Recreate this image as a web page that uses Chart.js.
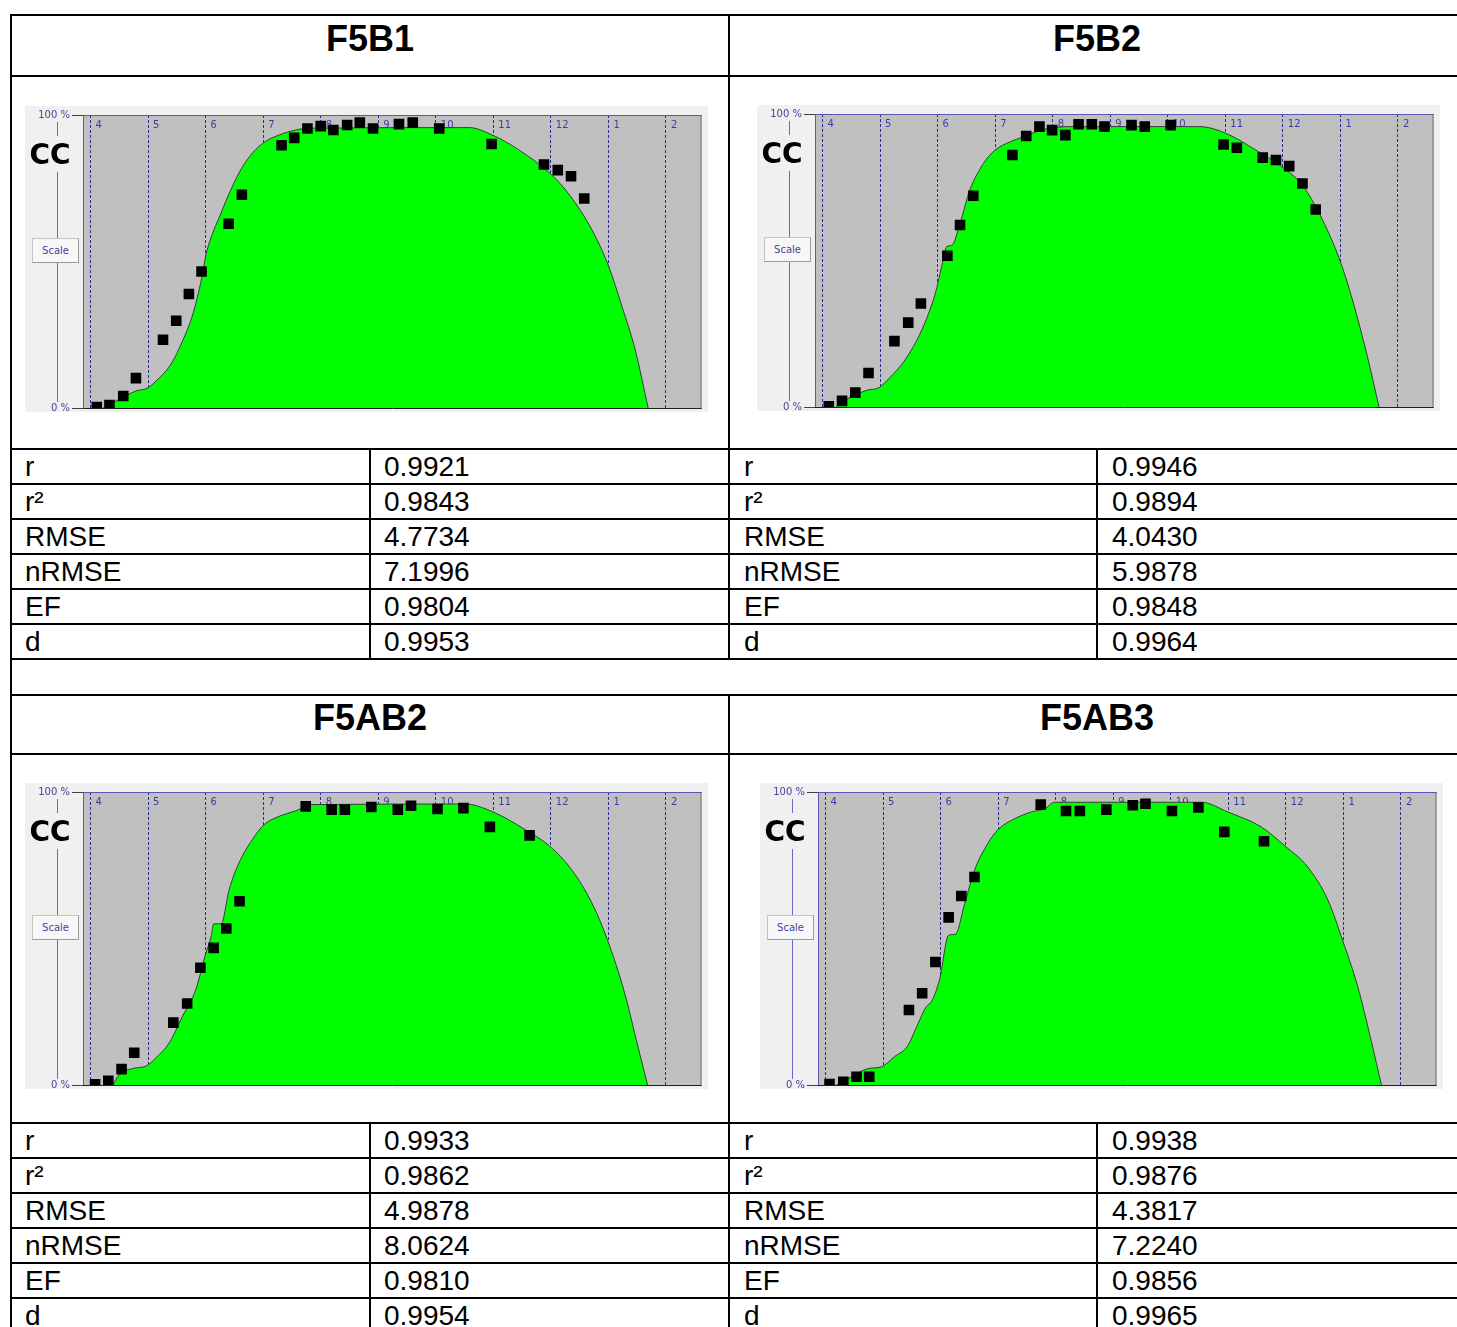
<!DOCTYPE html>
<html>
<head>
<meta charset="utf-8">
<script src="https://cdn.jsdelivr.net/npm/chart.js@4.4.0/dist/chart.umd.min.js"></script>
<style>
  html, body { margin: 0; padding: 0; background: #fff; overflow: hidden; }
  body { width: 1457px; height: 1327px; position: relative; font-family: "Liberation Sans", Arial, sans-serif; }
  .hline { position: absolute; height: 2px; background: #000; }
  .vline { position: absolute; width: 2px; background: #000; }
  .head { position: absolute; width: 300px; margin-left: -150px; text-align: center; font-weight: bold; font-size: 36px; line-height: 36px; }
  .cell { position: absolute; font-size: 28px; line-height: 28px; white-space: nowrap; }
  .plot { position: absolute; width: 683px; height: 306px; background: #f0f0f0; }
  .plot canvas { position: absolute; left: 0; top: 0; }
  .yrule { position: absolute; left: 32px; width: 1px; background: #6a6ac4; }
  .cc { position: absolute; left: -1px; top: 34px; width: 52px; text-align: center; font: bold 28px "DejaVu Sans", sans-serif; line-height: 30px; color: #000; }
  .scale { position: absolute; left: 7px; top: 132px; width: 45px; height: 23px; background: #f7f7f7;
           border: 1px solid #c4c4c4; border-right-color: #9a9a9a; border-bottom-color: #9a9a9a;
           font: 10px "DejaVu Sans", sans-serif; color: #4444a0; text-align: center; line-height: 23px; }
</style>
</head>
<body>
<script>
// Meses del eje (posición en meses, etiqueta)
const monthTicks = [4, 5, 6, 7, 8, 9, 10, 11, 12, 13, 14]
const monthLabels = ['4', '5', '6', '7', '8', '9', '10', '11', '12', '1', '2']
const statNames = ['r', 'r²', 'RMSE', 'nRMSE', 'EF', 'd']

// F5B1
const f5b1SimX = [4.22, 4.50, 4.79, 4.98, 5.14, 5.40, 5.60, 5.78, 5.93, 6.01, 6.12, 6.24, 6.41, 6.59, 6.76, 6.99, 7.28, 7.57, 7.80, 10.58, 10.98, 11.45, 11.99, 12.26, 12.55, 12.78, 13.00, 13.24, 13.47, 13.69]
const f5b1SimCC = [0, 3.0, 5.8, 6.7, 9.2, 15.0, 22.9, 32.1, 44.1, 52.6, 59.5, 65.2, 73.2, 80.6, 85.7, 90.3, 93.2, 94.9, 95.5, 95.7, 93.2, 88.0, 80.0, 74.3, 66.3, 58.3, 48.6, 34.4, 19.5, 0]
const f5b1ObsX = [4.11, 4.33, 4.57, 4.79, 5.26, 5.49, 5.71, 5.93, 6.40, 6.63, 7.32, 7.54, 7.77, 8.00, 8.22, 8.46, 8.68, 8.91, 9.36, 9.60, 10.06, 10.97, 11.88, 12.12, 12.35, 12.58]
const f5b1ObsCC = [0.3, 1.0, 4.1, 10.2, 23.3, 29.8, 38.9, 46.6, 62.9, 72.8, 89.7, 92.2, 95.4, 96.2, 94.9, 96.6, 97.4, 95.4, 96.9, 97.4, 95.4, 90.1, 83.1, 81.2, 79.1, 71.5]
const f5b1Stats = ['0.9921', '0.9843', '4.7734', '7.1996', '0.9804', '0.9953']

// F5B2
const f5b2SimX = [4.23, 4.49, 4.77, 4.98, 5.18, 5.41, 5.64, 5.81, 5.96, 6.07, 6.16, 6.25, 6.39, 6.56, 6.80, 7.00, 7.26, 7.49, 7.72, 7.95, 8.40, 10.55, 11.01, 11.53, 11.98, 12.34, 12.69, 12.99, 13.21, 13.47, 13.67]
const f5b2SimCC = [0, 3.4, 5.7, 6.6, 10.2, 15.4, 22.8, 30.2, 38.7, 47.8, 54.8, 55.2, 62.7, 74.0, 83.2, 87.7, 90.5, 92.2, 94.0, 95.2, 95.7, 95.7, 93.4, 87.7, 82.0, 75.7, 63.8, 50.1, 36.5, 17.1, 0]
const f5b2ObsX = [4.11, 4.34, 4.57, 4.80, 5.25, 5.49, 5.71, 6.17, 6.39, 6.62, 7.30, 7.54, 7.77, 7.99, 8.22, 8.45, 8.68, 8.90, 9.37, 9.60, 10.05, 10.97, 11.20, 11.65, 11.88, 12.11, 12.34, 12.57]
const f5b2ObsCC = [0.2, 2.1, 4.9, 11.6, 22.5, 28.8, 35.3, 51.6, 62.1, 72.1, 86.0, 92.5, 95.7, 94.5, 92.8, 96.5, 96.5, 95.7, 96.2, 95.7, 96.2, 89.6, 88.5, 85.1, 84.3, 82.2, 76.3, 67.4]
const f5b2Stats = ['0.9946', '0.9894', '4.0430', '5.9878', '0.9848', '0.9964']

// F5AB2
const f5ab2SimX = [4.39, 4.50, 4.73, 4.97, 5.14, 5.37, 5.60, 5.83, 5.99, 6.10, 6.14, 6.27, 6.41, 6.58, 6.81, 7.02, 7.28, 7.57, 7.85, 10.51, 10.97, 11.55, 11.98, 12.36, 12.71, 12.98, 13.28, 13.51, 13.68]
const f5ab2SimCC = [0, 3.6, 5.6, 6.5, 9.3, 14.4, 23.5, 32.6, 44.0, 51.0, 55.0, 55.0, 66.7, 75.8, 83.7, 88.9, 91.7, 93.6, 95.7, 95.9, 93.4, 87.2, 81.5, 73.5, 62.2, 49.7, 31.5, 13.3, 0]
const f5ab2ObsX = [4.08, 4.31, 4.54, 4.76, 5.44, 5.68, 5.91, 6.14, 6.36, 6.59, 7.74, 8.19, 8.42, 8.88, 9.34, 9.57, 10.03, 10.48, 10.94, 11.63]
const f5ab2ObsCC = [0.2, 1.4, 5.4, 11.0, 21.3, 27.8, 40.0, 46.8, 53.4, 62.7, 95.1, 94.0, 94.0, 94.9, 94.0, 95.3, 94.2, 94.5, 88.1, 85.2]
const f5ab2Stats = ['0.9933', '0.9862', '4.9878', '8.0624', '0.9810', '0.9954']

// F5AB3
const f5ab3SimX = [4.19, 4.45, 4.74, 4.97, 5.20, 5.42, 5.61, 5.75, 5.84, 5.98, 6.14, 6.26, 6.42, 6.59, 6.82, 7.00, 7.29, 7.58, 7.81, 7.98, 10.53, 10.99, 11.57, 11.97, 12.38, 12.73, 12.99, 13.25, 13.48, 13.66]
const f5ab3SimCC = [0, 2.8, 5.6, 6.2, 9.7, 13.1, 21.0, 26.7, 28.4, 35.8, 51.1, 51.5, 62.0, 73.3, 82.4, 87.2, 90.9, 93.2, 94.3, 96.5, 96.5, 93.2, 88.1, 81.8, 74.4, 63.1, 49.1, 33.5, 15.3, 0]
const f5ab3ObsX = [4.07, 4.31, 4.54, 4.76, 5.45, 5.68, 5.91, 6.14, 6.36, 6.59, 7.74, 8.18, 8.42, 8.88, 9.34, 9.56, 10.02, 10.48, 10.93, 11.62]
const f5ab3ObsCC = [0.3, 1.1, 2.8, 2.8, 25.6, 31.3, 42.0, 57.2, 64.5, 71.0, 95.7, 93.5, 93.5, 94.0, 95.5, 96.0, 93.5, 94.7, 86.4, 83.2]
const f5ab3Stats = ['0.9938', '0.9876', '4.3817', '7.2240', '0.9856', '0.9965']

// Cuadrícula de la tabla
const hLines = [15, 76, 449, 484, 519, 554, 589, 624, 659, 695, 754, 1123, 1158, 1193, 1228, 1263, 1298]
const vLines = [
  [11, 14, 1327], [729, 14, 660], [729, 694, 1327],
  [370, 449, 660], [1097, 449, 660], [370, 1123, 1327], [1097, 1123, 1327]
]

const panels = [
  { title: 'F5B1', cx: 370, titleTop: 21, left: 25, top: 106, rowTop: 449, labelX: 25, valueX: 384, simX: f5b1SimX, simCC: f5b1SimCC, obsX: f5b1ObsX, obsCC: f5b1ObsCC, stats: f5b1Stats },
  { title: 'F5B2', cx: 1097, titleTop: 21, left: 757, top: 105, rowTop: 449, labelX: 744, valueX: 1112, simX: f5b2SimX, simCC: f5b2SimCC, obsX: f5b2ObsX, obsCC: f5b2ObsCC, stats: f5b2Stats },
  { title: 'F5AB2', cx: 370, titleTop: 700, left: 25, top: 783, rowTop: 1123, labelX: 25, valueX: 384, simX: f5ab2SimX, simCC: f5ab2SimCC, obsX: f5ab2ObsX, obsCC: f5ab2ObsCC, stats: f5ab2Stats },
  { title: 'F5AB3', cx: 1097, titleTop: 700, left: 760, top: 783, rowTop: 1123, labelX: 744, valueX: 1112, simX: f5ab3SimX, simCC: f5ab3SimCC, obsX: f5ab3ObsX, obsCC: f5ab3ObsCC, stats: f5ab3Stats }
]

const addDiv = (cls, css, text) => {
  const el = document.createElement('div')
  el.className = cls
  Object.assign(el.style, css)
  if (text !== undefined) el.textContent = text
  document.body.appendChild(el)
  return el
}

for (const y of hLines) addDiv('hline', { left: '10px', top: (y - 1) + 'px', width: '1460px' })
for (const [x, y0, y1] of vLines) addDiv('vline', { left: (x - 1) + 'px', top: y0 + 'px', height: (y1 - y0) + 'px' })

// Fondo gris, etiquetas de meses y marco del área de trazado
const plotFrame = {
  id: 'plotFrame',
  beforeDraw(chart) {
    const { ctx, chartArea: a } = chart
    ctx.save()
    ctx.fillStyle = '#c0c0c0'
    ctx.fillRect(a.left, a.top, a.right - a.left, a.bottom - a.top)
    ctx.restore()
  },
  beforeDatasetsDraw(chart) {
    const { ctx, chartArea: a, scales } = chart
    ctx.save()
    ctx.font = '10px "DejaVu Sans"'
    ctx.fillStyle = '#3c3ca6'
    ctx.textBaseline = 'middle'
    monthTicks.forEach((v, i) => {
      ctx.fillText(monthLabels[i], scales.x.getPixelForValue(v) + 5, a.top + 10)
    })
    ctx.restore()
  },
  afterDraw(chart) {
    const { ctx, chartArea: a } = chart
    ctx.save()
    ctx.lineWidth = 1
    ctx.strokeStyle = '#5858b4'
    ctx.beginPath(); ctx.moveTo(a.left, a.top + 0.5); ctx.lineTo(a.right + 1, a.top + 0.5); ctx.stroke()
    ctx.strokeStyle = '#555555'
    ctx.beginPath(); ctx.moveTo(a.right + 0.5, a.top); ctx.lineTo(a.right + 0.5, a.bottom + 1); ctx.stroke()
    ctx.strokeStyle = '#202020'
    ctx.beginPath(); ctx.moveTo(a.left, a.bottom + 0.5); ctx.lineTo(a.right + 1, a.bottom + 0.5); ctx.stroke()
    ctx.restore()
  }
}

const ccChart = (p) => {
  const box = addDiv('plot', { left: p.left + 'px', top: p.top + 'px' })
  const canvas = document.createElement('canvas')
  // 4 px extra below: room for the "0 %" label, the grey box stays 306 px
  canvas.width = 683
  canvas.height = 310
  box.appendChild(canvas)

  // eje CC decorativo con botón Scale
  for (const [t, h] of [[16, 14], [66, 66], [157, 139]]) {
    const r = document.createElement('div')
    r.className = 'yrule'
    r.style.top = t + 'px'
    r.style.height = h + 'px'
    box.appendChild(r)
  }
  const cc = document.createElement('div')
  cc.className = 'cc'
  cc.textContent = 'CC'
  box.appendChild(cc)
  const sc = document.createElement('div')
  sc.className = 'scale'
  sc.textContent = 'Scale'
  box.appendChild(sc)

  new Chart(canvas, {
    type: 'line',
    data: {
      datasets: [
        {
          data: p.obsX.map((x, i) => ({ x, y: p.obsCC[i] })),
          showLine: false,
          pointStyle: 'rect',
          pointRadius: 7.5,
          pointBorderWidth: 0,
          pointBackgroundColor: '#000',
          order: 0
        },
        {
          data: p.simX.map((x, i) => ({ x, y: p.simCC[i] })),
          fill: 'origin',
          backgroundColor: '#00ff00',
          borderColor: '#3a3a3a',
          borderWidth: 1,
          pointRadius: 0,
          cubicInterpolationMode: 'monotone',
          order: 1
        }
      ]
    },
    options: {
      responsive: false,
      animation: false,
      events: [],
      layout: { padding: { top: 9, right: 6, bottom: 0, left: 0 } },
      plugins: { legend: { display: false }, tooltip: { enabled: false } },
      scales: {
        x: {
          type: 'linear',
          min: 3.87,
          max: 14.6,
          afterBuildTicks: (s) => { s.ticks = monthTicks.map(v => ({ value: v })) },
          afterFit: (s) => { s.height = 0 },
          ticks: { display: false },
          grid: { color: '#2a2a98', lineWidth: 1, drawTicks: false },
          border: { display: false, dash: [3, 2] }
        },
        y: {
          min: 0,
          max: 100,
          afterBuildTicks: (s) => { s.ticks = [{ value: 0 }, { value: 100 }] },
          afterFit: (s) => { s.width = 58 },
          ticks: {
            callback: (v) => v + ' %',
            font: { family: 'DejaVu Sans', size: 10 },
            color: '#44449c',
            padding: 2
          },
          grid: { drawOnChartArea: false, drawTicks: true, tickLength: 11, tickColor: '#404040' },
          border: { display: true, color: '#5858b4', width: 1 }
        }
      }
    },
    plugins: [plotFrame]
  })
}

for (const p of panels) {
  addDiv('head', { left: p.cx + 'px', top: p.titleTop + 'px' }, p.title)
  ccChart(p)
  statNames.forEach((name, i) => {
    const top = p.rowTop + i * 35 + 4
    addDiv('cell', { left: p.labelX + 'px', top: top + 'px' }, name)
    addDiv('cell', { left: p.valueX + 'px', top: top + 'px' }, p.stats[i])
  })
}
</script>
</body>
</html>
